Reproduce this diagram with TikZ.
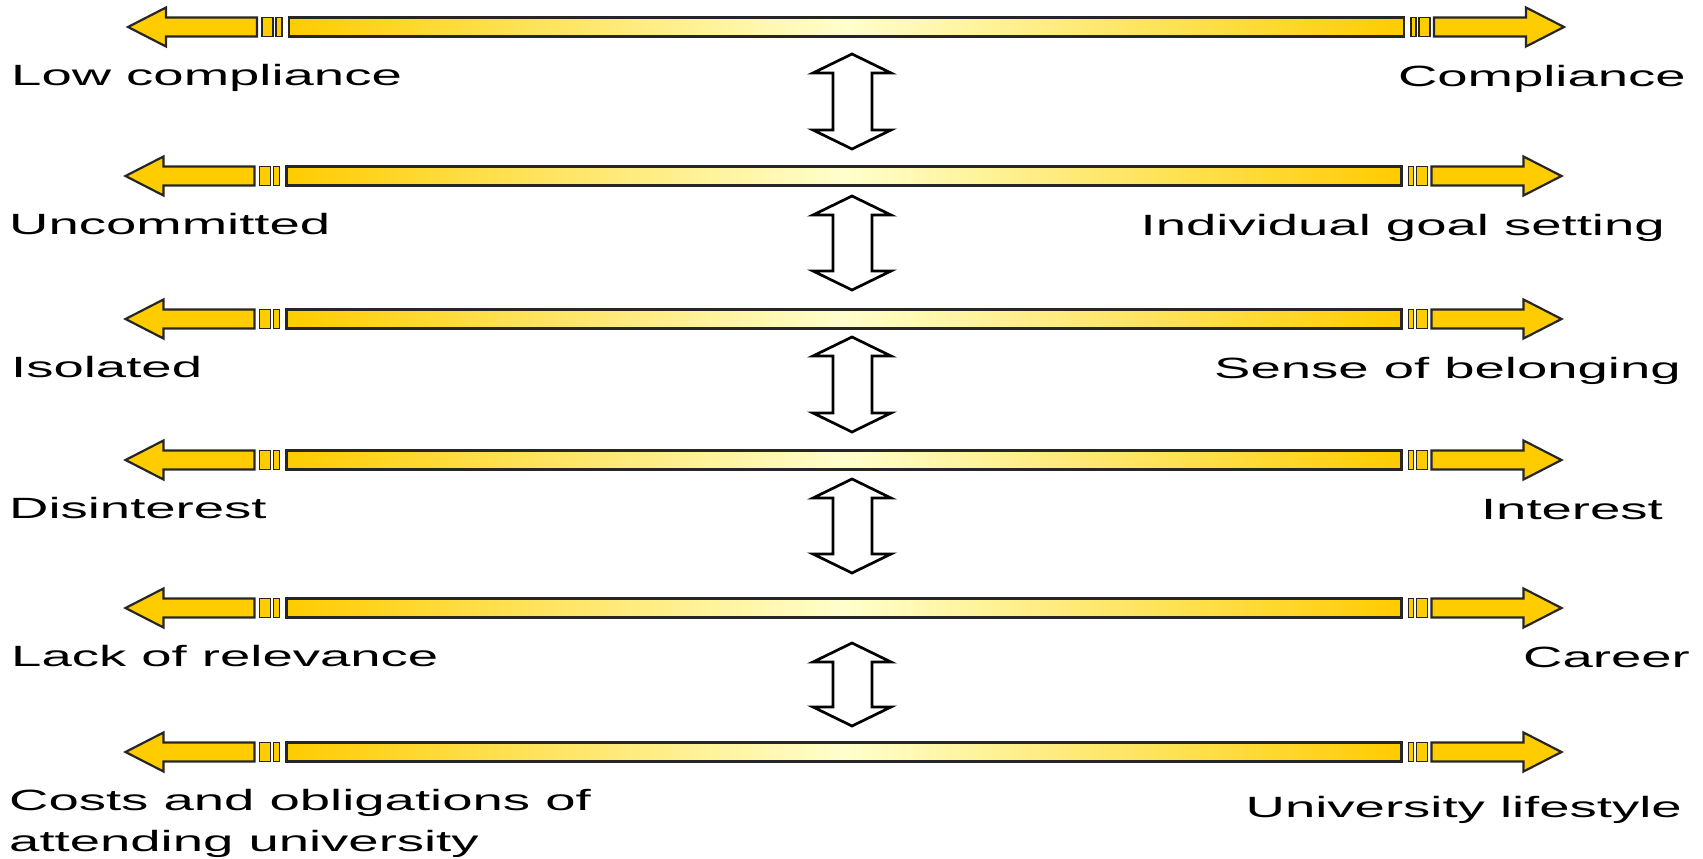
\documentclass[tikz,border=0pt]{standalone}
\usepackage{fontspec}
\setmainfont{Liberation Sans}[FakeStretch=1.86]
\usepackage{xcolor}
\usepackage{tikz}

\definecolor{barGold}{HTML}{FFCC00}
\definecolor{barPale}{HTML}{FFFFCC}

\tikzset{
  blockarrow/.style={draw=black!85, line width=2.2pt, fill=barGold, line join=miter},
  barbreak/.style={draw=black!85, line width=1.8pt, fill=barGold},
  shadedbar/.style={draw=black!85, line width=2.2pt, left color=barGold, right color=barGold, middle color=barPale},
  updown/.style={draw=black, line width=2.7pt, fill=white, line join=miter},
  poletext/.style={font=\fontsize{29.3}{41}\selectfont, inner sep=0pt, align=left}
}

% one scale: arrow, two breaks, shaded bar, two breaks, arrow
\newcommand{\scalerow}[2]{%
  \begin{scope}[shift={(#2,#1)}]
    \draw[blockarrow] (128,0) -- (166,-19.5) -- (166,-9.5) -- (257,-9.5) -- (257,9.5) -- (166,9.5) -- (166,19.5) -- cycle;
    \draw[barbreak] (262,-9.5) rectangle (273,9.5);
    \draw[barbreak] (276,-9.5) rectangle (282,9.5);
    \draw[shadedbar] (289,-9.5) rectangle (1404,9.5);
    \draw[barbreak] (1411,-9.5) rectangle (1416,9.5);
    \draw[barbreak] (1419,-9.5) rectangle (1430,9.5);
    \draw[blockarrow] (1434,-9.5) -- (1526,-9.5) -- (1526,-19.5) -- (1564,0) -- (1526,19.5) -- (1526,9.5) -- (1434,9.5) -- cycle;
  \end{scope}}

% hollow two-headed arrow between two scales
\newcommand{\linkrow}[2]{%
  \draw[updown] (852,#1) -- (891,#1+19) -- (872,#1+19) -- (872,#2-19) -- (891,#2-19) -- (852,#2)
    -- (813,#2-19) -- (833,#2-19) -- (833,#1+19) -- (813,#1+19) -- cycle;}

\begin{document}
\begin{tikzpicture}[x=1pt, y=-1pt]
\useasboundingbox (0,0) rectangle (1703,859);

\scalerow{27}{0}
\scalerow{176}{-2.5}
\scalerow{319}{-2.5}
\scalerow{460}{-2.5}
\scalerow{608}{-2.5}
\scalerow{752}{-2.5}

\linkrow{54}{149}
\linkrow{196}{290}
\linkrow{337}{432}
\linkrow{479}{573}
\linkrow{643}{726}

% left ends
\node[poletext, anchor=base west] (lo1) at (11,85) {Low compliance};
\node[poletext, anchor=base west] (lo2) at (9,234) {Uncommitted};
\node[poletext, anchor=base west] (lo3) at (11,377) {Isolated};
\node[poletext, anchor=base west] (lo4) at (9,518) {Disinterest};
\node[poletext, anchor=base west] (lo5) at (11,666) {Lack of relevance};
\node[poletext, anchor=base west] (lo6) at (9,851) {Costs and obligations of\\attending university};

% right ends
\node[poletext, anchor=base east] (hi1) at (1686,86) {Compliance};
\node[poletext, anchor=base east] (hi2) at (1665,235) {Individual goal setting};
\node[poletext, anchor=base east] (hi3) at (1681,378) {Sense of belonging};
\node[poletext, anchor=base east] (hi4) at (1663,519) {Interest};
\node[poletext, anchor=base east] (hi5) at (1690,667) {Career};
\node[poletext, anchor=base east] (hi6) at (1682,817) {University lifestyle};
\end{tikzpicture}
\end{document}
